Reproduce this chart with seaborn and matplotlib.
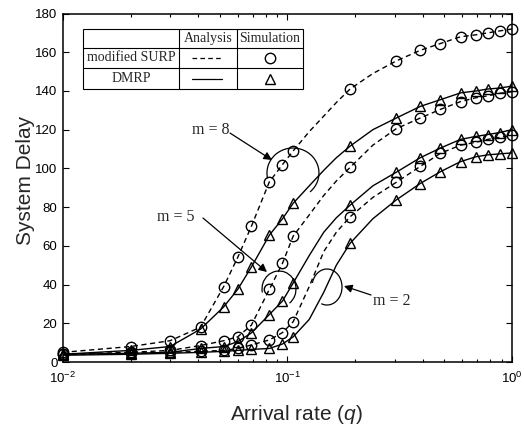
import matplotlib
matplotlib.use("Agg")
import matplotlib.pyplot as plt
import seaborn as sns
from matplotlib.patches import Arc, Rectangle

# Simulation points
q_sim = [0.01, 0.02, 0.03, 0.041, 0.052, 0.06, 0.069, 0.083, 0.095, 0.106,
         0.19, 0.305, 0.39, 0.48, 0.59, 0.69, 0.78, 0.88, 1.0]
surp_m8_sim = [5, 8, 11, 18, 39, 54, 70, 93, 102, 109,
               141, 155.5, 161, 164.5, 168, 169, 170, 171, 172]
dmrp_m8_sim = [4, 6, 8, 17, 28.5, 37.5, 49, 65.5, 74, 82,
               111.5, 126, 132, 135.5, 139, 140, 141, 141.5, 142.5]
surp_m5_sim = [4, 5, 6, 8.5, 11, 13, 19, 37.5, 51, 65,
               100.5, 120.5, 126, 130.5, 134.5, 136.5, 137.5, 138.8, 139.6]
dmrp_m5_sim = [4, 4.5, 5, 7, 8, 10.5, 15, 24.5, 31.5, 40.8,
               81, 98, 105.5, 110.5, 115, 116.5, 117.5, 118.5, 120]
surp_m2_sim = [4, 4.5, 5, 5.5, 6, 7, 8.8, 11.4, 15.2, 20.8,
               75, 92.8, 101, 107.8, 112, 113.5, 115, 116, 117]
dmrp_m2_sim = [3.5, 4, 4.5, 5, 5.5, 6, 6.5, 7, 9.3, 13,
               61.3, 83.7, 92.2, 98.3, 103.5, 106, 107, 107.5, 108]

# Analysis curves (a few extra points where the curves bend)
q_ana = [0.01, 0.02, 0.03, 0.041, 0.052, 0.06, 0.069, 0.083, 0.095, 0.106,
         0.125, 0.145, 0.165, 0.19, 0.24, 0.305, 0.39, 0.48, 0.59, 0.69, 0.78, 0.88, 1.0]
surp_m8_ana = [5, 8, 11, 18, 39, 54, 70, 93, 102, 109,
               119, 127, 134, 141, 149, 155.5, 161, 164.5, 168, 169, 170, 171, 172]
dmrp_m8_ana = [4, 6, 8, 17, 28.5, 37.5, 49, 65.5, 74, 82,
               91, 99, 105.5, 111.5, 120, 126, 132, 135.5, 139, 140, 141, 141.5, 142.5]
surp_m5_ana = [4, 5, 6, 8.5, 11, 13, 19, 37.5, 51, 65,
               76, 86, 93.5, 100.5, 112, 120.5, 126, 130.5, 134.5, 136.5, 137.5, 138.8, 139.6]
dmrp_m5_ana = [4, 4.5, 5, 7, 8, 10.5, 15, 24.5, 31.5, 40.8,
               55, 67, 74.5, 81, 91, 98, 105.5, 110.5, 115, 116.5, 117.5, 118.5, 120]
surp_m2_ana = [4, 4.5, 5, 5.5, 6, 7, 8.8, 11.4, 15.2, 20.8,
               39, 57, 67, 75, 85, 92.8, 101, 107.8, 112, 113.5, 115, 116, 117]
dmrp_m2_ana = [3.5, 4, 4.5, 5, 5.5, 6, 6.5, 7, 9.3, 13,
               22, 36, 50, 61.3, 74, 83.7, 92.2, 98.3, 103.5, 106, 107, 107.5, 108]

y_ticks = [0, 20, 40, 60, 80, 100, 120, 140, 160, 180]

sns.set_style("ticks")
plt.rcParams['font.family'] = ['Liberation Sans', 'DejaVu Sans']
plt.rcParams['mathtext.fontset'] = 'custom'
plt.rcParams['mathtext.rm'] = 'Liberation Sans'
plt.rcParams['mathtext.it'] = 'Liberation Sans:italic'
plt.rcParams['lines.dashed_pattern'] = [3.7, 2.6]

fig = plt.figure(figsize=(5.24, 4.25), dpi=100)
ax = fig.add_axes([0.1202, 0.1482, 0.8569, 0.82])

series = [
    (surp_m8_ana, surp_m8_sim, '--', 'o'),
    (dmrp_m8_ana, dmrp_m8_sim, '-', '^'),
    (surp_m5_ana, surp_m5_sim, '--', 'o'),
    (dmrp_m5_ana, dmrp_m5_sim, '-', '^'),
    (surp_m2_ana, surp_m2_sim, '--', 'o'),
    (dmrp_m2_ana, dmrp_m2_sim, '-', '^'),
]
for y_ana, y_sim, ls, mk in series:
    sns.lineplot(x=q_ana, y=y_ana, ax=ax, color='k', linestyle=ls, lw=1.0)
    sns.lineplot(x=q_sim, y=y_sim, ax=ax, color='k', linestyle='none',
                 marker=mk, markersize=7.5 if mk == 'o' else 7,
                 markerfacecolor='none', markeredgecolor='k',
                 markeredgewidth=1.0, clip_on=False, zorder=3)

ax.set_xscale('log')
ax.set_xlim(0.01, 1.0)
ax.set_ylim(0, 180)
ax.set_yticks(y_ticks)
ax.tick_params(which='both', direction='in', top=True, right=True, labelsize=9.5,
               width=0.8, color='k', labelcolor='k')
ax.tick_params(which='major', length=4, pad=4)
ax.tick_params(axis='x', which='major', pad=6)
ax.tick_params(which='minor', length=2)
for sp in ax.spines.values():
    sp.set_linewidth(1.1)
    sp.set_color('k')

ax.set_xlabel('Arrival rate ($q$)', fontsize=15)
ax.set_ylabel('System Delay', fontsize=15)
ax.xaxis.set_label_coords(0.52, -0.118)
ax.yaxis.set_label_coords(-0.063, 0.52)

serif = ['Liberation Serif', 'DejaVu Serif']

# legend drawn as a small table
tx = [0.045, 0.259, 0.387, 0.534]
ty = [0.955, 0.901, 0.844, 0.783]
ax.add_patch(Rectangle((tx[0], ty[3]), tx[3] - tx[0], ty[0] - ty[3], transform=ax.transAxes,
                       fill=True, facecolor='white', edgecolor='k', lw=0.8, zorder=4))
for yy in ty[1:3]:
    ax.plot([tx[0], tx[3]], [yy, yy], color='k', lw=0.8, transform=ax.transAxes, zorder=5)
for xx in tx[1:3]:
    ax.plot([xx, xx], [ty[0], ty[3]], color='k', lw=0.8, transform=ax.transAxes, zorder=5)
rc = [(ty[0] + ty[1]) / 2, (ty[1] + ty[2]) / 2, (ty[2] + ty[3]) / 2]
cc = [(tx[0] + tx[1]) / 2, (tx[1] + tx[2]) / 2, (tx[2] + tx[3]) / 2]
ax.text(cc[1], rc[0], 'Analysis', family=serif, fontsize=10, ha='center', va='center',
        transform=ax.transAxes, zorder=6)
ax.text(cc[2], rc[0], 'Simulation', family=serif, fontsize=10, ha='center', va='center',
        transform=ax.transAxes, zorder=6)
ax.text(cc[0], rc[1], 'modified SURP', family=serif, fontsize=10, ha='center', va='center',
        transform=ax.transAxes, zorder=6)
ax.text(cc[0], rc[2], 'DMRP', family=serif, fontsize=10, ha='center', va='center',
        transform=ax.transAxes, zorder=6)
ax.plot([0.2866, 0.3534], [rc[1], rc[1]], color='k', lw=0.9, linestyle='--',
        transform=ax.transAxes, zorder=6)
ax.plot([0.2866, 0.3534], [rc[2], rc[2]], color='k', lw=0.9, linestyle='-',
        transform=ax.transAxes, zorder=6)
ax.plot([cc[2]], [rc[1]], marker='o', markersize=7.5, mfc='none', mec='k', mew=1.0,
        transform=ax.transAxes, zorder=6)
ax.plot([cc[2]], [rc[2]], marker='^', markersize=7, mfc='none', mec='k', mew=1.0,
        transform=ax.transAxes, zorder=6)

# group annotations: open ellipses, arrows and labels
arcs = [((0.5122, 0.5423), 0.1158, 0.1435, -55, 195),
        ((0.4811, 0.2095), 0.0757, 0.1033, -60, 195),
        ((0.5880, 0.2152), 0.0668, 0.1033, -105, 160)]
for c, w, h, t1, t2 in arcs:
    ax.add_patch(Arc(c, w, h, theta1=t1, theta2=t2, transform=ax.transAxes,
                     color='k', lw=0.9))

notes = [('m = 8', (0.3285, 0.6657), (0.372, 0.657), (0.4655, 0.5796)),
         ('m = 5', (0.2517, 0.4175), (0.3118, 0.4132), (0.4543, 0.2582)),
         ('m = 2', (0.7327, 0.1765), (0.686, 0.1923), (0.6258, 0.218))]
for label, tpos, start, tip in notes:
    ax.annotate('', xy=tip, xytext=start, xycoords='axes fraction',
                arrowprops=dict(arrowstyle='-|>', color='k', lw=0.9, mutation_scale=12,
                                shrinkA=0, shrinkB=0))
    ax.text(tpos[0], tpos[1], label, family=serif, fontsize=11.5, ha='center', va='center',
            transform=ax.transAxes)

fig.savefig('out.png', dpi=100)
